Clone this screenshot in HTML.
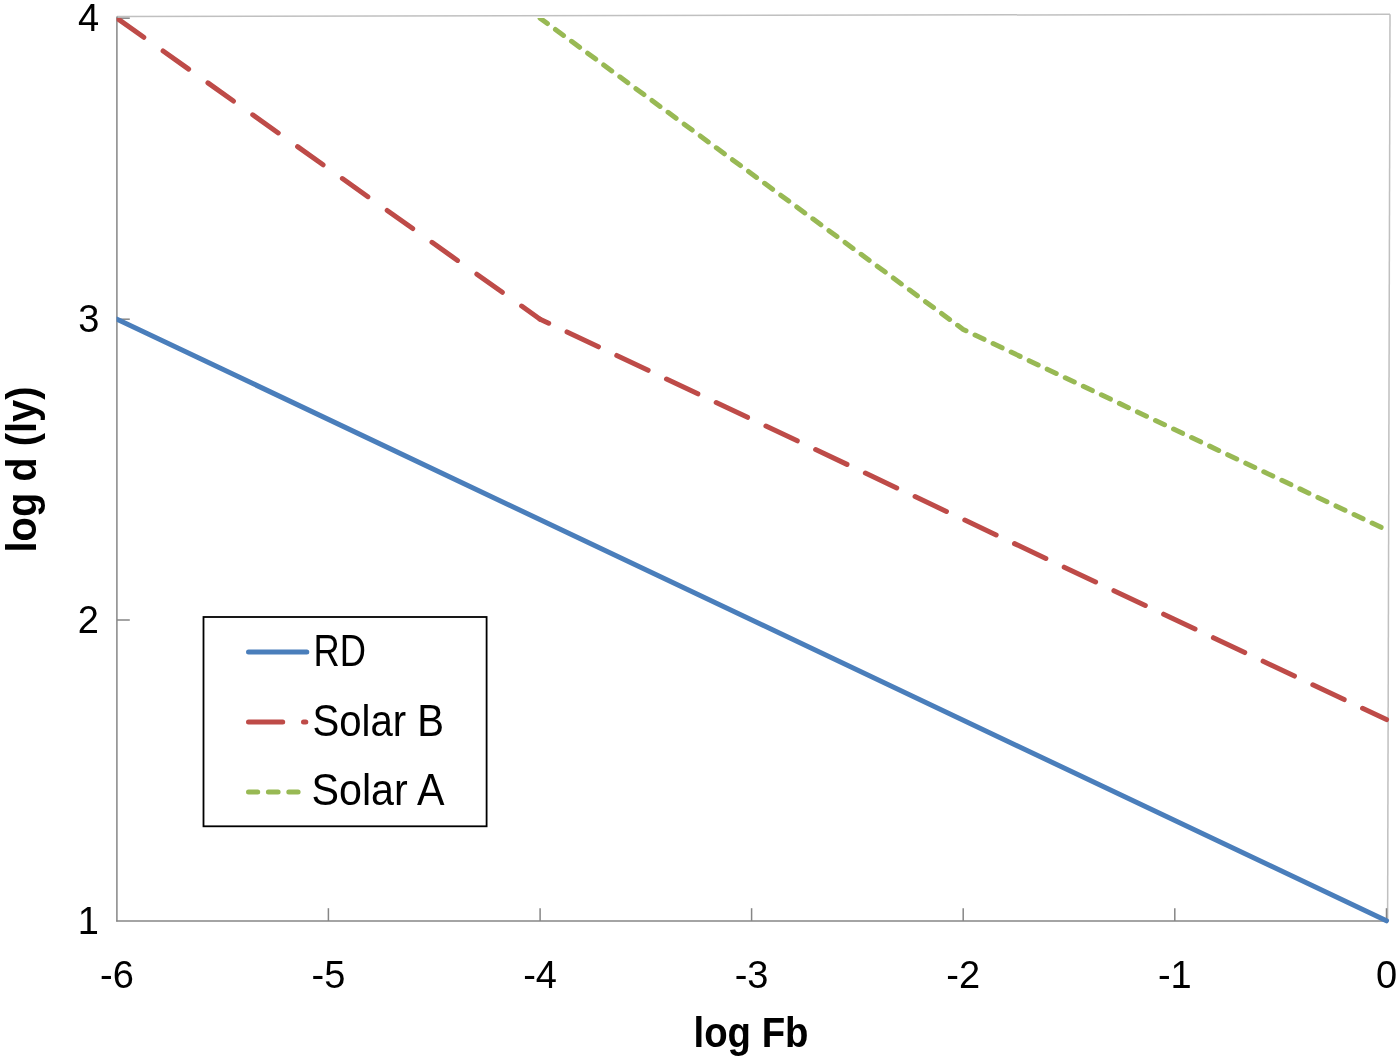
<!DOCTYPE html>
<html>
<head>
<meta charset="utf-8">
<style>
html,body{margin:0;padding:0;background:#fff;}
body{width:1400px;height:1059px;overflow:hidden;}
svg{display:block;will-change:transform;}
text{font-family:"Liberation Sans", sans-serif;fill:#000;}
</style>
</head>
<body>
<svg width="1400" height="1059" viewBox="0 0 1400 1059">
<defs>
<clipPath id="pc"><rect x="116.6" y="18" width="1290" height="920"/></clipPath>
</defs>
<rect width="1400" height="1059" fill="#fff"/>

<!-- plot border top/right -->
<line x1="117" y1="16.5" x2="1390" y2="14.2" stroke="#c0c0c0" stroke-width="1.5"/>
<line x1="1390" y1="14.2" x2="1387.6" y2="921" stroke="#c0c0c0" stroke-width="1.5"/>

<!-- axes -->
<line x1="116.9" y1="16.5" x2="116.9" y2="921.6" stroke="#868686" stroke-width="1.5"/>
<line x1="116.2" y1="920.9" x2="1387.6" y2="920.9" stroke="#868686" stroke-width="1.5"/>

<!-- y ticks -->
<g stroke="#868686" stroke-width="1.5">
<line x1="117" y1="18.2" x2="129.8" y2="18.2"/>
<line x1="117" y1="319.2" x2="129.8" y2="319.2"/>
<line x1="117" y1="620" x2="129.8" y2="620"/>
<!-- x ticks -->
<line x1="328.4" y1="908.2" x2="328.4" y2="921"/>
<line x1="540.1" y1="908.2" x2="540.1" y2="921"/>
<line x1="751.6" y1="908.2" x2="751.6" y2="921"/>
<line x1="963.2" y1="908.2" x2="963.2" y2="921"/>
<line x1="1174.8" y1="908.2" x2="1174.8" y2="921"/>
<line x1="1386.5" y1="908.2" x2="1386.5" y2="921"/>
</g>

<!-- y labels -->
<g font-size="38" text-anchor="end">
<text x="99.2" y="31">4</text>
<text x="99.5" y="332">3</text>
<text x="99" y="633">2</text>
<text x="99" y="934">1</text>
</g>
<!-- x labels -->
<g font-size="38" text-anchor="middle">
<text x="117" y="988">-6</text>
<text x="328.4" y="988">-5</text>
<text x="540.1" y="988">-4</text>
<text x="751.6" y="988">-3</text>
<text x="963.2" y="988">-2</text>
<text x="1174.8" y="988">-1</text>
<text x="1386.5" y="988">0</text>
</g>

<!-- axis titles -->
<text x="693.5" y="1046.5" font-size="42" font-weight="bold" textLength="115" lengthAdjust="spacingAndGlyphs">log Fb</text>
<text transform="translate(36,552.5) rotate(-90)" font-size="42" font-weight="bold" textLength="166" lengthAdjust="spacingAndGlyphs">log d (ly)</text>

<!-- data lines -->
<g clip-path="url(#pc)" fill="none" stroke-width="5" stroke-linecap="round" stroke-linejoin="round">
<path d="M117,319.2 L1386.5,920.8" stroke="#4A7EBB"/>
<path d="M117,18.2 L540.1,319.2" stroke="#BE4B48" stroke-dasharray="31.3 23.7" stroke-dashoffset="53.4"/>
<path d="M540.1,319.2 L1386.5,719.6" stroke="#BE4B48" stroke-dasharray="34.7 20.3" stroke-dashoffset="25.2"/>
<path d="M540.1,18.2 L963.2,329.4 L1386.5,529.9" stroke="#98B954" stroke-dasharray="10 9.97" stroke-dashoffset="0.9"/>
</g>

<!-- legend -->
<rect x="203.5" y="617" width="283.1" height="209.3" fill="#fff" stroke="#000" stroke-width="1.8"/>
<g fill="none" stroke-width="5" stroke-linecap="round">
<line x1="248.5" y1="652" x2="306.8" y2="652" stroke="#4A7EBB"/>
<path d="M248.5,722 L282.7,722 M303.5,722 L305.8,722" stroke="#BE4B48"/>
<path d="M248.5,792 L257.7,792 M268.4,792 L278.1,792 M288.8,792 L298.1,792" stroke="#98B954"/>
</g>
<g font-size="43.5">
<text x="313.5" y="666" textLength="52.5" lengthAdjust="spacingAndGlyphs">RD</text>
<text x="312.5" y="735.5" textLength="131.5" lengthAdjust="spacingAndGlyphs">Solar B</text>
<text x="311.5" y="805.2" textLength="133" lengthAdjust="spacingAndGlyphs">Solar A</text>
</g>
</svg>
</body>
</html>
